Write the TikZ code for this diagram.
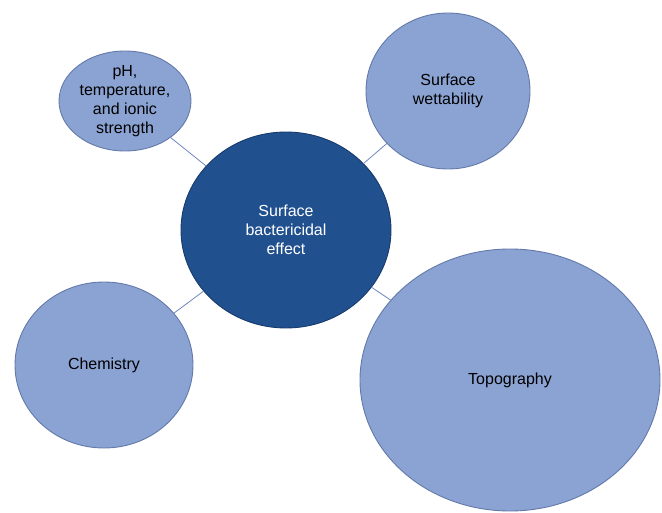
\documentclass[tikz,border=0pt]{standalone}
\usepackage{fontspec}
\setmainfont{Liberation Sans}
\usepackage{tikz}
\usetikzlibrary{shapes.geometric}
\usepackage{xcolor}
\definecolor{lightblob}{HTML}{8BA3D3}
\definecolor{lightrim}{HTML}{6379AA}
\definecolor{darkblob}{HTML}{21508F}
\definecolor{darkrim}{HTML}{173B6C}
\definecolor{linkblue}{HTML}{6F87BF}
\newcommand{\pxu}{0.03515cm}

\begin{document}
\begin{tikzpicture}[x=0.03515cm,y=-0.03515cm,line cap=round,
  blob/.style={ellipse,draw=lightrim,fill=lightblob,line width=0.9pt,inner sep=0pt,align=center,
    font=\fontsize{16}{18.8}\selectfont,text=black},
  core/.style={blob,draw=darkrim,fill=darkblob,text=white},
  link/.style={draw=linkblue,line width=0.8pt}]
\useasboundingbox (0,0) rectangle (662,513);
\node[core,minimum width=210*\pxu,minimum height=196*\pxu] (effect) at (286,230) {Surface\\bactericidal\\effect};
\node[blob,minimum width=132*\pxu,minimum height=92*\pxu] (ph) at (125,101) {pH,\\temperature,\\and ionic\\strength};
\node[blob,minimum width=164*\pxu,minimum height=156*\pxu] (wet) at (448,91) {Surface\\wettability};
\node[blob,minimum width=178*\pxu,minimum height=166*\pxu] (chem) at (104,365) {Chemistry};
\node[blob,minimum width=300*\pxu,minimum height=262*\pxu] (topo) at (510,380) {Topography};
\draw[link] (effect) -- (ph);
\draw[link] (effect) -- (wet);
\draw[link] (effect) -- (chem);
\draw[link] (effect) -- (topo);
\end{tikzpicture}
\end{document}
